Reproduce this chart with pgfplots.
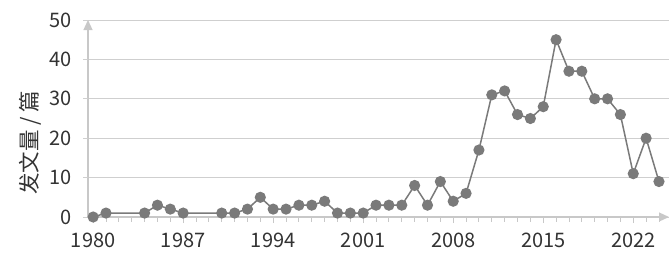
\documentclass[border=0pt]{standalone}
\usepackage{fontspec}
\setmainfont{Noto Sans CJK SC}
\usepackage{pgfplots}
\pgfplotsset{compat=1.18}
\usetikzlibrary{arrows.meta}
\definecolor{gridgray}{HTML}{CFCFCF}
\definecolor{axgray}{HTML}{C8C8C8}
\definecolor{linegray}{HTML}{7A7A7A}
\definecolor{txt}{HTML}{333333}
\begin{document}
\begin{tikzpicture}
\useasboundingbox (-88pt,-38pt) rectangle (581pt,217pt);
\begin{axis}[
  at={(0,0)}, anchor=south west,
  scale only axis,
  width=581pt, height=197pt,
  xmin=-0.4, xmax=44.78,
  ymin=0, ymax=50,
  clip=false,
  axis x line=bottom, axis y line=left,
  axis line style={draw=axgray, line width=1.2pt, -{Triangle[length=10pt,width=9pt]}},
  xtick={0,7,...,42},
  xticklabels={1980,1987,1994,2001,2008,2015,2022},
  minor xtick={1,...,44},
  ytick={0,10,...,50},
  ymajorgrids,
  grid style={draw=gridgray, line width=0.9pt},
  ytick style={draw=none},
  xtick style={draw=axgray, line width=0.9pt},
  tick align=outside,
  major tick length=6pt, minor tick length=4.5pt,
  /pgf/number format/assume math mode=true,
  /pgf/number format/1000 sep={},
  tick label style={font=\fontsize{20}{23}\selectfont, text=txt},
  yticklabel style={xshift=-7pt},
  xticklabel style={yshift=-6pt},
  every axis y label/.style={at={([xshift=-58pt]axis description cs:0,0.376)}, rotate=90, anchor=center, font=\fontsize{21.5}{24}\selectfont, text=txt},
  ylabel={发文量 / 篇},
]
\draw[gridgray, line width=0.9pt] (rel axis cs:0,0) -- ++(-10pt,0);
\draw[gridgray, line width=0.9pt] (rel axis cs:0,0.2) -- ++(-10pt,0);
\draw[gridgray, line width=0.9pt] (rel axis cs:0,0.4) -- ++(-10pt,0);
\draw[gridgray, line width=0.9pt] (rel axis cs:0,0.6) -- ++(-10pt,0);
\draw[gridgray, line width=0.9pt] (rel axis cs:0,0.8) -- ++(-10pt,0);
\draw[gridgray, line width=0.9pt] (rel axis cs:0,1) -- ++(-10pt,0);
\addplot[color=linegray, line width=1.5pt, mark=*, mark size=4.8pt, mark options={fill=linegray, draw=linegray}, x filter/.expression={x-1980}] coordinates {
(1980,0) (1981,1) (1984,1) (1985,3) (1986,2) (1987,1)
(1990,1) (1991,1) (1992,2) (1993,5) (1994,2) (1995,2) (1996,3) (1997,3) (1998,4) (1999,1)
(2000,1) (2001,1) (2002,3) (2003,3) (2004,3) (2005,8) (2006,3) (2007,9) (2008,4) (2009,6)
(2010,17) (2011,31) (2012,32) (2013,26) (2014,25) (2015,28) (2016,45) (2017,37) (2018,37)
(2019,30) (2020,30) (2021,26) (2022,11) (2023,20) (2024,9)
};
\end{axis}
\end{tikzpicture}
\end{document}
